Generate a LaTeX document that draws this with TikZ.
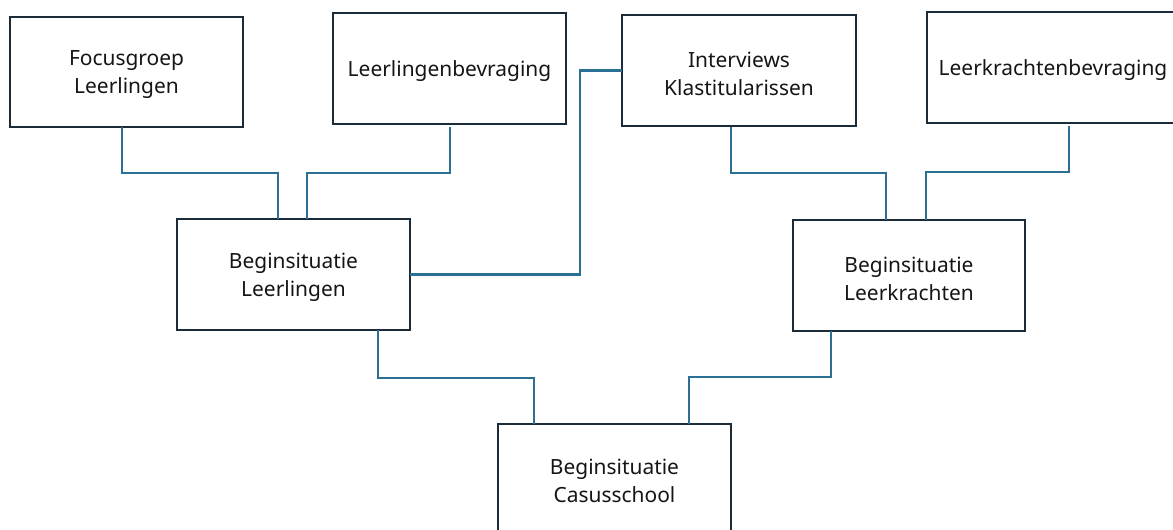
\documentclass[tikz,border=0pt]{standalone}
\usepackage{fontspec}
\setmainfont{Noto Sans}
\usetikzlibrary{calc}
\definecolor{boxline}{HTML}{1C2B38}
\definecolor{connc}{HTML}{2A6F94}
\definecolor{txt}{HTML}{151515}
\begin{document}
\begin{tikzpicture}[x=0.75pt,y=-0.75pt,
  box/.style={draw=boxline,line width=1.7pt,inner sep=0pt,outer sep=0pt,minimum height=83.25pt},
  lbl/.style={inner sep=0pt,align=center,font=\fontsize{15.7}{21}\selectfont,text=txt},
  link/.style={draw=connc,line width=1.6pt}]
\useasboundingbox (0,0) rectangle (1173,529);
\begin{scope}
\clip (0,0) rectangle (1173,529);
\node[box,minimum width=174.75pt,minimum height=82.5pt] (fg) at (126.5,72) {};
\node[box,minimum width=174.75pt] (lb) at (449.5,68.5) {};
\node[box,minimum width=175.5pt] (iv) at (739,70.5) {};
\node[box,minimum width=189pt] (kb) at (1053,67.5) {};
\node[box,minimum width=174.75pt] (bl) at (293.5,274.5) {};
\node[box,minimum width=174pt] (bk) at (909,275.5) {};
\node[box,minimum width=174.75pt] (cs) at (614.5,479.5) {};

\node[lbl] (fgt) at ($(fg)+(0,3)$) {Focusgroep\\Leerlingen};
\node[lbl] (lbt) at ($(lb)+(0,3)$) {Leerlingenbevraging};
\node[lbl] (ivt) at ($(iv)+(0,3)$) {Interviews\\Klastitularissen};
\node[lbl] (kbt) at ($(kb)+(0,3)$) {Leerkrachtenbevraging};
\node[lbl] (blt) at ($(bl)+(0,3)$) {Beginsituatie\\Leerlingen};
\node[lbl] (bkt) at ($(bk)+(0,3)$) {Beginsituatie\\Leerkrachten};
\node[lbl] (cst) at ($(cs)+(0,1.5)$) {Beginsituatie\\Casusschool};

\draw[link] ($(fg.south)+(-4.5,0)$) |- ($(bl.north)+(-15.5,-46)$) -- ($(bl.north)+(-15.5,0)$);
\draw[link] ($(lb.south)+(0.5,3)$) |- ($(bl.north)+(13.5,-46)$) -- ($(bl.north)+(13.5,0)$);
\draw[link] (bl.east) -| ($(iv.west)+(-42,0)$) -- (iv.west);
\draw[link] ($(iv.south)+(-8,1)$) |- ($(bk.north)+(-23,-47)$) -- ($(bk.north)+(-23,0)$);
\draw[link] ($(kb.south)+(16,3)$) |- ($(bk.north)+(17,-48)$) -- ($(bk.north)+(17,0)$);
\draw[link] ($(bl.south)+(84.5,0)$) |- ($(cs.north)+(-80.5,-46)$) -- ($(cs.north)+(-80.5,0)$);
\draw[link] ($(bk.south)+(-78,0)$) |- ($(cs.north)+(74.5,-47)$) -- ($(cs.north)+(74.5,0)$);
\end{scope}
\end{tikzpicture}
\end{document}
